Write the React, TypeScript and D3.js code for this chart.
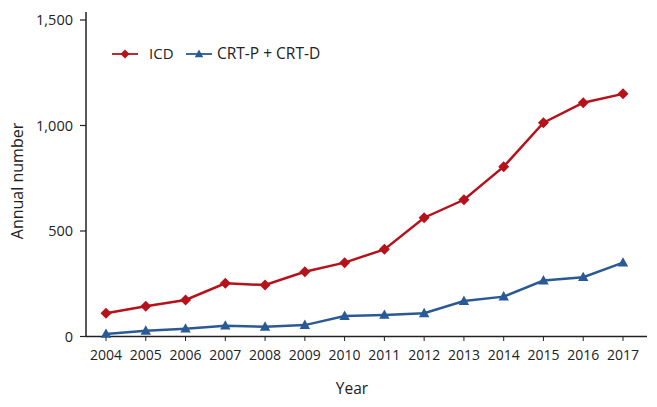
import React from "react";
import * as d3 from "d3";

const years = [2004, 2005, 2006, 2007, 2008, 2009, 2010, 2011, 2012, 2013, 2014, 2015, 2016, 2017];
const icd = [110, 143, 173, 252, 244, 307, 350, 413, 563, 648, 805, 1013, 1108, 1150];
const crt = [12, 27, 37, 51, 46, 54, 97, 102, 110, 168, 189, 265, 281, 350];
const yTicks = [0, 500, 1000, 1500];

const RED = "#b5121b";
const BLUE = "#2a5a95";
const FONT = "'Open Sans', 'Noto Sans', sans-serif";

export default function App() {
  const W = 657, H = 407;
  const x = d3.scaleLinear().domain([2004, 2017]).range([106, 623]);
  const y = d3.scaleLinear().domain([0, 1500]).range([336.5, 20]);
  const line = d3.line<number>().x((_, i) => x(years[i])).y((d) => y(d));
  const fmt = d3.format(",");
  const diamond = (cx: number, cy: number, r = 5.5) =>
    `M${cx},${cy - r}L${cx + r},${cy}L${cx},${cy + r}L${cx - r},${cy}Z`;
  const tri = (cx: number, cy: number, r = 5.5) =>
    `M${cx},${cy - r}L${cx + r * 0.95},${cy + r * 0.7}L${cx - r * 0.95},${cy + r * 0.7}Z`;

  return (
    <svg width={W} height={H} style={{ position: "absolute", left: 0, top: 0, background: "#fff" }} fontFamily={FONT}>
      {/* axes */}
      <line x1={86} x2={86} y1={12} y2={336.5} stroke="#222" strokeWidth={1.5} />
      <line x1={86} x2={647} y1={336.5} y2={336.5} stroke="#222" strokeWidth={1.5} />
      {yTicks.map((t) => (
        <g key={t}>
          <line x1={80} x2={86} y1={y(t)} y2={y(t)} stroke="#222" strokeWidth={1.2} />
          <text x={73} y={y(t)} dy="0.35em" textAnchor="end" fontSize={14.5} fill="#222">
            {fmt(t)}
          </text>
        </g>
      ))}
      {years.map((yr) => (
        <g key={yr}>
          <line x1={x(yr)} x2={x(yr)} y1={336.5} y2={341} stroke="#222" strokeWidth={1} />
          <text x={x(yr)} y={360} textAnchor="middle" fontSize={14} fill="#222">
            {yr}
          </text>
        </g>
      ))}
      <text x={352} y={394} textAnchor="middle" fontSize={15.5} fill="#222">Year</text>
      <text transform={`translate(23,181) rotate(-90)`} textAnchor="middle" fontSize={16} fill="#222">
        Annual number
      </text>

      {/* series */}
      <path d={line(icd) || ""} fill="none" stroke={RED} strokeWidth={2.5} />
      {icd.map((v, i) => (
        <path key={i} d={diamond(x(years[i]), y(v))} fill={RED} />
      ))}
      <path d={line(crt) || ""} fill="none" stroke={BLUE} strokeWidth={2.5} />
      {crt.map((v, i) => (
        <path key={i} d={tri(x(years[i]), y(v))} fill={BLUE} />
      ))}

      {/* legend */}
      <line x1={112} x2={138} y1={54} y2={54} stroke={RED} strokeWidth={1.8} />
      <path d={diamond(125, 54, 4.5)} fill={RED} />
      <text x={149} y={54} dy="0.35em" fontSize={15} fill="#222">ICD</text>
      <line x1={186} x2={212} y1={54} y2={54} stroke={BLUE} strokeWidth={1.8} />
      <path d={tri(199, 54, 4.5)} fill={BLUE} />
      <text x={217} y={54} dy="0.35em" fontSize={15.5} fill="#222">CRT-P + CRT-D</text>
    </svg>
  );
}
